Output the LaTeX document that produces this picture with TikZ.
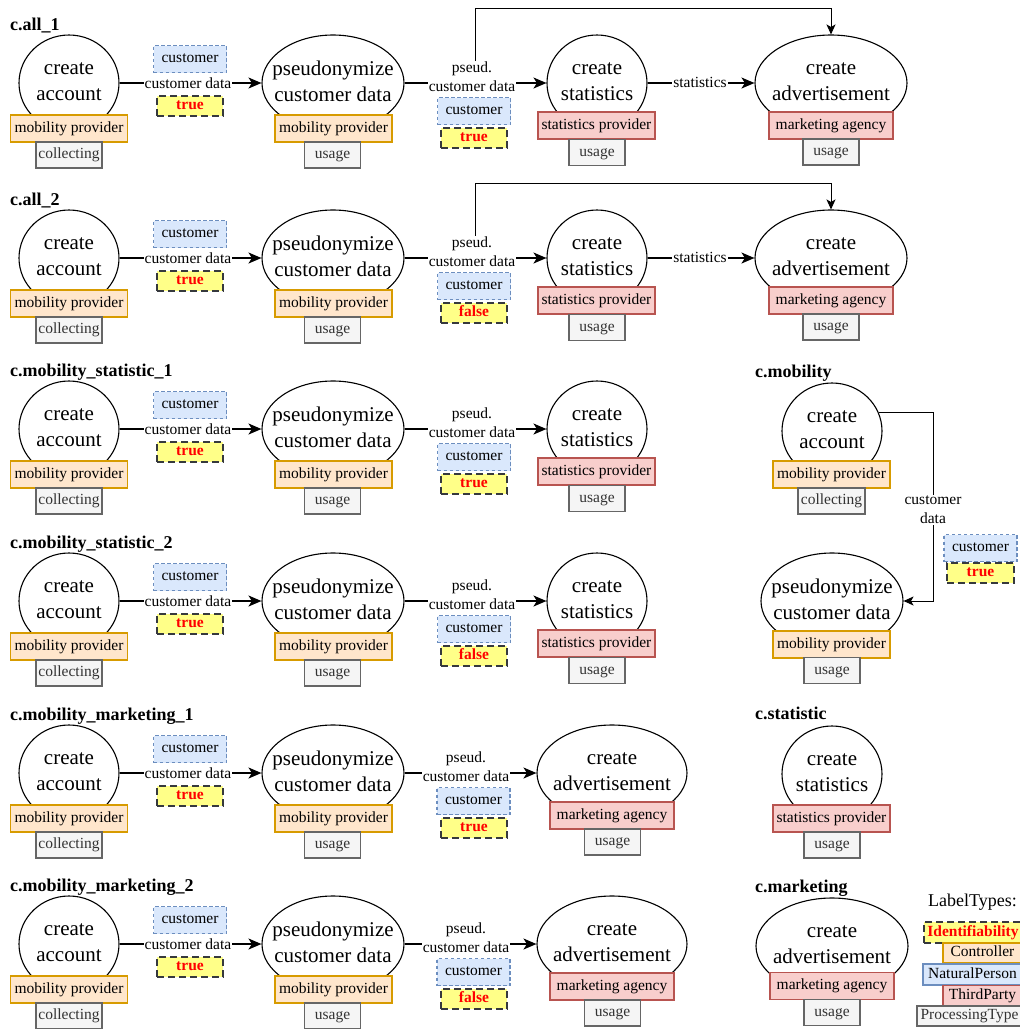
\documentclass[tikz,border=0pt]{standalone}
\usepackage{fontspec}
\setmainfont{Liberation Serif}
\usetikzlibrary{shapes.geometric,arrows.meta}
\definecolor{orF}{HTML}{FFE6CC}\definecolor{orS}{HTML}{D79B00}
\definecolor{blF}{HTML}{DAE8FC}\definecolor{blS}{HTML}{6C8EBF}
\definecolor{rdF}{HTML}{F8CECC}\definecolor{rdS}{HTML}{B85450}
\definecolor{gyF}{HTML}{F5F5F5}\definecolor{gyS}{HTML}{666666}\definecolor{gyT}{HTML}{333333}
\definecolor{ywF}{HTML}{FFFF88}\definecolor{ywS}{HTML}{36393D}
\newcommand\procfont{\fontsize{21}{26}\selectfont}
\newcommand\lblfont{\fontsize{15.5}{19}\selectfont}
\newcommand\ttlfont{\fontsize{18}{22}\selectfont\bfseries}
\tikzset{
 proc/.style={ellipse, draw=black, line width=1.1pt, fill=white, inner sep=0pt},
 ptxt/.style={inner sep=0pt, align=center, font=\procfont, yshift=1.5pt},
 lblbox/.style={rectangle, inner sep=0pt, line width=1.1pt, font=\lblfont, text height=10.5pt, text depth=3.5pt, align=center},
 ctrl/.style={lblbox, draw=orS, fill=orF, minimum width=117pt, minimum height=27pt},
 third/.style={lblbox, draw=rdS, fill=rdF, minimum height=27pt},
 cust/.style={lblbox, draw=blS, fill=blF, dash pattern=on 3.5pt off 2.5pt, minimum width=73pt, minimum height=27pt},
 ident/.style={lblbox, draw=ywS, fill=ywF, dash pattern=on 7pt off 4pt, line width=1.3pt, minimum width=66pt, minimum height=20pt, text=red, font=\lblfont\bfseries},
 ptype/.style={lblbox, draw=gyS, fill=gyF, text=gyT, line width=1.4pt, minimum height=26pt},
 rowtitle/.style={anchor=base west, inner sep=0pt, font=\ttlfont},
 elabel/.style={fill=white, inner sep=1pt, font=\lblfont, align=center},
 flow/.style={line width=1.6pt, -{Stealth[length=13pt,width=11pt,inset=3.5pt]}},
 elbow/.style={line width=1pt, -{Stealth[length=10pt,width=9pt,inset=2.5pt]}},
}
% first part of a row: create account -> pseudonymize
\newcommand\RowStart[3]{%
\begin{scope}[yshift=-#1pt]
\node[rowtitle] (#2title) at (10,30) {#3};
\node[proc, minimum width=100pt, minimum height=96pt, label={[ptxt]center:{create\\account}}] (#2ca) at (69,83) {};
\node[proc, minimum width=142pt, minimum height=96pt, label={[ptxt]center:{pseudonymize\\customer data}}] (#2pd) at (333,83) {};
\node[ctrl] (#2caC) at (69,128.5) {mobility provider};
\node[ptype, minimum width=66pt] (#2caP) at (69,155) {collecting};
\node[ctrl] (#2pdC) at (333.5,128.5) {mobility provider};
\node[ptype, minimum width=56pt] (#2pdP) at (332.5,155) {usage};
\draw[flow] (#2ca) -- (#2pd);
\node[elabel] (#2l1) at (188,83) {customer data};
\node[cust] (#2l1N) at (190,59) {customer};
\node[ident] (#2l1I) at (190,106) {true};
\end{scope}}
% pseudonymize -> create statistics
\newcommand\RowStat[3]{%
\begin{scope}[yshift=-#1pt]
\node[proc, minimum width=100pt, minimum height=96pt, label={[ptxt]center:{create\\statistics}}] (#2cs) at (597,83) {};
\node[third, minimum width=117pt] (#2csC) at (596.5,125.5) {statistics provider};
\node[ptype, minimum width=56pt] (#2csP) at (597,152.5) {usage};
\draw[flow] (#2pd) -- (#2cs);
\node[elabel] (#2l2) at (472,77) {pseud.\\customer data};
\node[cust] (#2l2N) at (474,111) {customer};
\node[ident] (#2l2I) at (474,138) {#3};
\end{scope}}
% create statistics -> create advertisement (+ bypass)
\newcommand\RowAdv[2]{%
\begin{scope}[yshift=-#1pt]
\node[proc, minimum width=152pt, minimum height=96pt, label={[ptxt]center:{create\\advertisement}}] (#2ad) at (831,83) {};
\node[third, minimum width=124pt] (#2adC) at (831,125.5) {marketing agency};
\node[ptype, minimum width=56pt] (#2adP) at (831,152) {usage};
\draw[flow] (#2cs) -- (#2ad);
\node[elabel] (#2l3) at (700,82) {statistics};
\draw[elbow] ([xshift=3pt]#2l2.north) -- ++(0,-52) -| (#2ad.north);
\end{scope}}
% pseudonymize -> create advertisement
\newcommand\RowMkt[3]{%
\begin{scope}[yshift=-#1pt]
\node[proc, minimum width=150pt, minimum height=96pt, label={[ptxt]center:{create\\advertisement}}] (#2ad) at (612,83) {};
\node[third, minimum width=124pt] (#2adC) at (612,125.5) {marketing agency};
\node[ptype, minimum width=56pt] (#2adP) at (612.5,152) {usage};
\draw[flow] (#2pd) -- (#2ad);
\node[elabel] (#2l2) at (466,77) {pseud.\\customer data};
\node[cust] (#2l2N) at (473.5,111) {customer};
\node[ident] (#2l2I) at (474,138) {#3};
\end{scope}}
\begin{document}
\begin{tikzpicture}[x=1pt,y=-1pt]
\useasboundingbox (0,0) rectangle (1020,1029);
\clip (0,0) rectangle (1020,1029);
\fill[white] (0,0) rectangle (1020,1029);
% rows
\RowStart{0}{ra}{c.all\_1}
\RowStat{0}{ra}{true}
\RowAdv{0}{ra}
\RowStart{175}{rb}{c.all\_2}
\RowStat{175}{rb}{false}
\RowAdv{175}{rb}
\RowStart{346}{rc}{c.mobility\_statistic\_1}
\RowStat{346}{rc}{true}
\RowStart{518}{rd}{c.mobility\_statistic\_2}
\RowStat{518}{rd}{false}
\RowStart{690}{re}{c.mobility\_marketing\_1}
\RowMkt{690}{re}{true}
\RowStart{861}{rf}{c.mobility\_marketing\_2}
\RowMkt{861}{rf}{false}
% c.mobility
\node[rowtitle] (mtitle) at (755,377) {c.mobility};
\node[proc, minimum width=100pt, minimum height=96pt, label={[ptxt]center:{create\\account}}] (mca) at (832,431) {};
\node[proc, minimum width=142pt, minimum height=96pt, label={[ptxt]center:{pseudonymize\\customer data}}] (mpd) at (832,601) {};
\node[ctrl] (mcaC) at (831.5,474.5) {mobility provider};
\node[ptype, minimum width=67pt] (mcaP) at (831.5,501) {collecting};
\node[ctrl] (mpdC) at (831.5,644.5) {mobility provider};
\node[ptype, minimum width=56pt] (mpdP) at (832,670.5) {usage};
\draw[elbow] (mca.22.5) -- ++(55,0) |- (mpd.east);
\node[elabel] (ml) at (933,510) {customer\\data};
\node[cust] (mlN) at (980.5,548) {customer};
\node[ident, minimum width=67pt] (mlI) at (980.5,573) {true};
% c.statistic
\node[rowtitle] (stitle) at (755,719) {c.statistic};
\node[proc, minimum width=100pt, minimum height=96pt, label={[ptxt]center:{create\\statistics}}] (scs) at (832,774) {};
\node[third, minimum width=117pt] (scsC) at (831.5,818.5) {statistics provider};
\node[ptype, minimum width=56pt] (scsP) at (832,845) {usage};
% c.marketing
\node[rowtitle] (ktitle) at (755,892) {c.marketing};
\node[proc, minimum width=152pt, minimum height=96pt, label={[ptxt]center:{create\\advertisement}}] (kad) at (832,946) {};
\node[third, minimum width=124pt] (kadC) at (832,986) {marketing agency};
\node[ptype, minimum width=56pt] (kadP) at (832,1012.5) {usage};
% legend
\node[font=\fontsize{18}{22}\selectfont, inner sep=0pt] (lgT) at (972.5,902) {LabelTypes:};
\node[ident, minimum width=98pt, minimum height=21pt] (lgI) at (973,932.5) {Identifiability};
\node[ctrl, minimum width=79pt, minimum height=20pt] (lgC) at (982.5,953) {Controller};
\node[cust, solid, minimum width=99pt, minimum height=21pt] (lgN) at (972.5,974.5) {NaturalPerson};
\node[third, minimum width=79pt, minimum height=20pt] (lgR) at (982.5,995.5) {ThirdParty};
\node[ptype, line width=2pt, minimum width=105pt, minimum height=20pt] (lgP) at (969.5,1016) {ProcessingType};
\end{tikzpicture}
\end{document}
